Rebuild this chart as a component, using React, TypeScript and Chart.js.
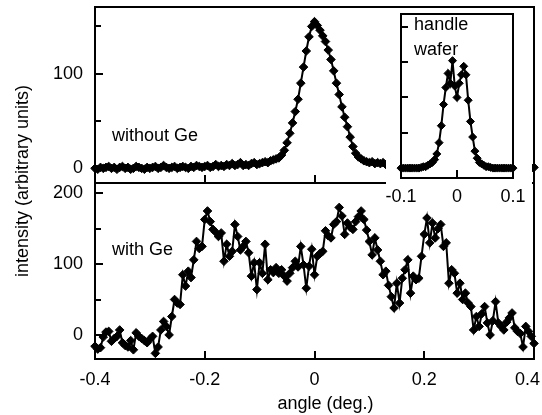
import React, { useEffect, useRef } from "react";
import { Chart, registerables } from "chart.js";

Chart.register(...registerables);

const FONT_FAMILY = "'Liberation Sans', Arial, Helvetica, sans-serif";
const FONT_SIZE = 18;

// scan grids (regular angular steps of the measurement)
const mainStart = -0.4;
const mainStep = 0.005;
const insetStart = -0.1;
const insetStep = 0.004;

// top panel: without Ge
const withoutGe = [
  0, -1, 1, 0, 1, 2, 0, 1, -1, 1,
  2, 0, 1, -1, 0, 2, 1, 0, -1, 1,
  0, 1, 2, 0, 1, 3, 1, 0, 1, 2,
  0, 1, 2, 1, 0, 2, 1, 3, 2, 1,
  2, 3, 1, 2, 4, 2, 3, 2, 4, 3,
  5, 3, 4, 6, 3, 4, 3, 5, 6, 4,
  5, 6, 7, 6, 8, 9, 10, 11, 14, 19,
  27, 37, 48, 60, 73, 90, 107, 124, 139, 150,
  155, 151, 146, 140, 134, 125, 115, 103, 90, 78,
  65, 54, 44, 33, 23, 16, 12, 10, 8, 7,
  6, 7, 5, 6, 5, 6, 4, 5, 4, 5,
  3, 4, 3, 4, 2, 3, 3, 2, 3, 2,
  2, 3, 1, 2, 2, 1, 2, 1, 2, 1,
  1, 2, 0, 1, 2, 1, 0, 1, 1, 2,
  0, 1, 1, 0, 2, 1, 0, 1, 1, 0,
  2, 1, 0, 1, 1, 0, 1, 2, 1, 0,
  1,
];

// bottom panel: with Ge
const withGe = [
  -16, -20, -18, -3, 4, 5, -9, -5, -2, 7,
  -11, -15, -17, -8, -21, 3, -2, -5, -8, -11,
  -6, -2, -26, -17, 7, 19, 12, 0, 26, 50,
  45, 43, 85, 69, 90, 81, 106, 132, 122, 125,
  163, 175, 160, 149, 145, 139, 144, 104, 128, 111,
  118, 156, 139, 120, 125, 132, 116, 83, 102, 64,
  102, 87, 128, 78, 92, 88, 95, 87, 92, 83,
  76, 87, 95, 104, 96, 125, 99, 66, 97, 121,
  85, 111, 115, 118, 147, 140, 137, 156, 160, 180,
  168, 142, 158, 152, 149, 160, 167, 175, 163, 148,
  132, 113, 137, 120, 104, 85, 90, 70, 54, 38,
  73, 45, 80, 92, 106, 59, 83, 78, 80, 111,
  142, 165, 130, 158, 137, 150, 156, 125, 130, 73,
  92, 87, 59, 73, 50, 59, 45, 40, 7, 26,
  12, 30, 40, 17, 0, 20, 47, 17, 12, 7,
  18, 24, 31, 10, 5, 2, -17, 12, 5, -2,
  -12,
];

// inset: handle wafer
const handleWafer = [
  0, 0, 0, 0, 0, 0, 0, 0, 0, 0.5,
  1, 1, 2, 3, 4, 6, 10, 18, 30, 45,
  57, 67, 60, 76, 58, 50, 60, 66, 72, 66,
  48, 33, 22, 12, 7, 4, 3, 2, 1, 1,
  0.5, 0, 0, 0, 0, 0, 0, 0, 0, 0,
  0,
];

const mainAngles = withoutGe.map((_, i) => Math.round((mainStart + i * mainStep) * 1000) / 1000);
const insetAngles = handleWafer.map((_, i) => Math.round((insetStart + i * insetStep) * 1000) / 1000);

const xTickValues = [-0.4, -0.2, 0, 0.2, 0.4];
const xTickLabels = ["-0.4", "-0.2", "0", "0.2", "0.4"];
const topYTicks = [0, 50, 100, 150];
const bottomYTicks = [0, 50, 100, 150, 200];
const insetXTickValues = [-0.1, 0, 0.1];
const insetXTickLabels = ["-0.1", "0", "0.1"];
const insetYTicks = [0, 25, 50, 75, 100];

const font = () => `${FONT_SIZE}px ${FONT_FAMILY}`;

const seriesStyle = {
  borderColor: "#000",
  borderWidth: 2,
  backgroundColor: "#000",
  pointStyle: "rectRot",
  pointRadius: 4.3,
  pointBackgroundColor: "#000",
  pointBorderColor: "#000",
  pointBorderWidth: 1,
  tension: 0,
  clip: false as any,
};

function line(ctx: CanvasRenderingContext2D, x1: number, y1: number, x2: number, y2: number) {
  ctx.beginPath();
  ctx.moveTo(x1, y1);
  ctx.lineTo(x2, y2);
  ctx.stroke();
}

const mainDecor = {
  id: "mainDecor",
  afterDraw(chart: any) {
    const ctx: CanvasRenderingContext2D = chart.ctx;
    const { left, right, top, bottom } = chart.chartArea;
    const x = chart.scales.x;
    const yT = chart.scales.yT;
    const yB = chart.scales.yB;
    const mid = Math.round(yT.bottom);
    ctx.save();
    ctx.strokeStyle = "#000";
    ctx.fillStyle = "#000";
    ctx.lineWidth = 2;
    ctx.strokeRect(left, top, right - left, bottom - top);
    line(ctx, left, mid, right, mid);
    for (const t of yT.ticks) {
      const py = Math.round(yT.getPixelForValue(t.value));
      line(ctx, left, py, left + (t.value % 100 === 0 ? 8 : 6), py);
    }
    for (const t of yB.ticks) {
      const py = Math.round(yB.getPixelForValue(t.value));
      line(ctx, left, py, left + (t.value % 100 === 0 ? 8 : 6), py);
    }
    xTickValues.forEach((v) => {
      const px = Math.round(x.getPixelForValue(v));
      if (px <= left + 1 || px >= right - 1) return;
      line(ctx, px, bottom, px, bottom - 8);
      line(ctx, px, mid, px, mid - 8);
    });
    ctx.font = font();
    ctx.textBaseline = "middle";
    ctx.textAlign = "center";
    xTickValues.forEach((v, i) => {
      let px = x.getPixelForValue(v);
      const w = ctx.measureText(xTickLabels[i]).width;
      if (px + w / 2 > chart.width - 2) px = chart.width - 2 - w / 2;
      ctx.fillText(xTickLabels[i], px, bottom + 21);
    });
    ctx.fillText("angle (deg.)", (left + right) / 2 + 11, bottom + 45);
    ctx.save();
    ctx.translate(23, mid - 2);
    ctx.rotate(-Math.PI / 2);
    ctx.fillText("intensity (arbitrary units)", 0, 0);
    ctx.restore();
    ctx.textAlign = "left";
    ctx.fillText("without Ge", x.getPixelForValue(-0.369), yT.getPixelForValue(34));
    ctx.fillText("with Ge", x.getPixelForValue(-0.369), yB.getPixelForValue(120));
    ctx.restore();
  },
};

const insetDecor = {
  id: "insetDecor",
  beforeDraw(chart: any) {
    const ctx: CanvasRenderingContext2D = chart.ctx;
    ctx.save();
    ctx.fillStyle = "#fff";
    ctx.fillRect(0, 0, chart.width, chart.height);
    ctx.restore();
  },
  afterDraw(chart: any) {
    const ctx: CanvasRenderingContext2D = chart.ctx;
    const { left, right, top, bottom } = chart.chartArea;
    const x = chart.scales.x;
    const y = chart.scales.y;
    ctx.save();
    ctx.strokeStyle = "#000";
    ctx.fillStyle = "#000";
    ctx.lineWidth = 2;
    ctx.strokeRect(left, top, right - left, bottom - top);
    for (const t of y.ticks) {
      const py = Math.round(y.getPixelForValue(t.value));
      line(ctx, left, py, left + 7, py);
    }
    insetXTickValues.forEach((v) => {
      const px = Math.round(x.getPixelForValue(v));
      if (px <= left + 1 || px >= right - 1) return;
      line(ctx, px, bottom, px, bottom - 8);
    });
    ctx.font = font();
    ctx.textBaseline = "middle";
    ctx.textAlign = "center";
    insetXTickValues.forEach((v, i) => {
      ctx.fillText(insetXTickLabels[i], x.getPixelForValue(v), bottom + 19);
    });
    ctx.textAlign = "left";
    ctx.fillText("handle", x.getPixelForValue(-0.0766), y.getPixelForValue(101));
    ctx.fillText("wafer", x.getPixelForValue(-0.0766), y.getPixelForValue(83.5));
    ctx.restore();
  },
};

const hiddenAxisBase = {
  grid: { display: false, drawTicks: false },
  border: { display: false },
};

function buildMainConfig(): any {
  return {
    type: "line",
    data: {
      datasets: [
        {
          label: "without Ge",
          data: mainAngles.map((a, i) => ({ x: a, y: withoutGe[i] })),
          yAxisID: "yT",
          ...seriesStyle,
        },
        {
          label: "with Ge",
          data: mainAngles.map((a, i) => ({ x: a, y: withGe[i] })),
          yAxisID: "yB",
          ...seriesStyle,
        },
      ],
    },
    options: {
      animation: false,
      responsive: false,
      maintainAspectRatio: false,
      layout: { padding: { top: 7, right: 8, bottom: 0, left: 0 } },
      plugins: { legend: { display: false }, tooltip: { enabled: false } },
      scales: {
        x: {
          type: "linear",
          position: "bottom",
          min: -0.4,
          max: 0.4,
          ...hiddenAxisBase,
          ticks: { display: false },
          afterBuildTicks: (s: any) => {
            s.ticks = xTickValues.map((v) => ({ value: v }));
          },
          afterFit: (s: any) => {
            s.height = 56;
            s.paddingLeft = 0;
            s.paddingRight = 0;
          },
        },
        yB: {
          type: "linear",
          position: "left",
          stack: "panels",
          stackWeight: 1,
          min: -34,
          max: 214.5,
          ...hiddenAxisBase,
          ticks: {
            display: true,
            autoSkip: false,
            padding: 12,
            color: "#000",
            font: { family: FONT_FAMILY, size: FONT_SIZE },
            callback: (v: number) => (v % 100 === 0 ? String(v) : ""),
          },
          afterBuildTicks: (s: any) => {
            s.ticks = bottomYTicks.map((v) => ({ value: v }));
          },
          afterFit: (s: any) => {
            s.width = 95;
            s.paddingTop = 0;
            s.paddingBottom = 0;
          },
        },
        yT: {
          type: "linear",
          position: "left",
          stack: "panels",
          stackWeight: 1,
          min: -15.5,
          max: 170.5,
          ...hiddenAxisBase,
          ticks: {
            display: true,
            autoSkip: false,
            padding: 12,
            color: "#000",
            font: { family: FONT_FAMILY, size: FONT_SIZE },
            callback: (v: number) => (v % 100 === 0 ? String(v) : ""),
          },
          afterBuildTicks: (s: any) => {
            s.ticks = topYTicks.map((v) => ({ value: v }));
          },
          afterFit: (s: any) => {
            s.width = 95;
            s.paddingTop = 0;
            s.paddingBottom = 0;
          },
        },
      },
    },
    plugins: [mainDecor],
  };
}

function buildInsetConfig(): any {
  return {
    type: "line",
    data: {
      datasets: [
        {
          label: "handle wafer",
          data: insetAngles.map((a, i) => ({ x: a, y: handleWafer[i] })),
          ...seriesStyle,
          pointRadius: 4,
        },
      ],
    },
    options: {
      animation: false,
      responsive: false,
      maintainAspectRatio: false,
      layout: { padding: { top: 6, right: 19, bottom: 28, left: 15 } },
      plugins: { legend: { display: false }, tooltip: { enabled: false } },
      scales: {
        x: {
          type: "linear",
          position: "bottom",
          min: -0.1,
          max: 0.1,
          ...hiddenAxisBase,
          ticks: { display: false },
          afterBuildTicks: (s: any) => {
            s.ticks = insetXTickValues.map((v) => ({ value: v }));
          },
          afterFit: (s: any) => {
            s.height = 0;
            s.paddingLeft = 0;
            s.paddingRight = 0;
          },
        },
        y: {
          type: "linear",
          position: "left",
          min: -7,
          max: 109,
          ...hiddenAxisBase,
          ticks: { display: false },
          afterBuildTicks: (s: any) => {
            s.ticks = insetYTicks.map((v) => ({ value: v }));
          },
          afterFit: (s: any) => {
            s.width = 0;
            s.paddingTop = 0;
            s.paddingBottom = 0;
          },
        },
      },
    },
    plugins: [insetDecor],
  };
}

export default function App() {
  const mainRef = useRef<HTMLCanvasElement>(null);
  const insetRef = useRef<HTMLCanvasElement>(null);

  useEffect(() => {
    const main = new Chart(mainRef.current as HTMLCanvasElement, buildMainConfig());
    const inset = new Chart(insetRef.current as HTMLCanvasElement, buildInsetConfig());
    return () => {
      main.destroy();
      inset.destroy();
    };
  }, []);

  return (
    <div style={{ position: "absolute", left: 0, top: 0, width: 542, height: 415, background: "#fff" }}>
      <canvas
        ref={mainRef}
        width={542}
        height={415}
        style={{ position: "absolute", left: 0, top: 0, width: 542, height: 415 }}
      />
      <canvas
        ref={insetRef}
        width={146}
        height={198}
        style={{ position: "absolute", left: 386, top: 8, width: 146, height: 198 }}
      />
    </div>
  );
}
